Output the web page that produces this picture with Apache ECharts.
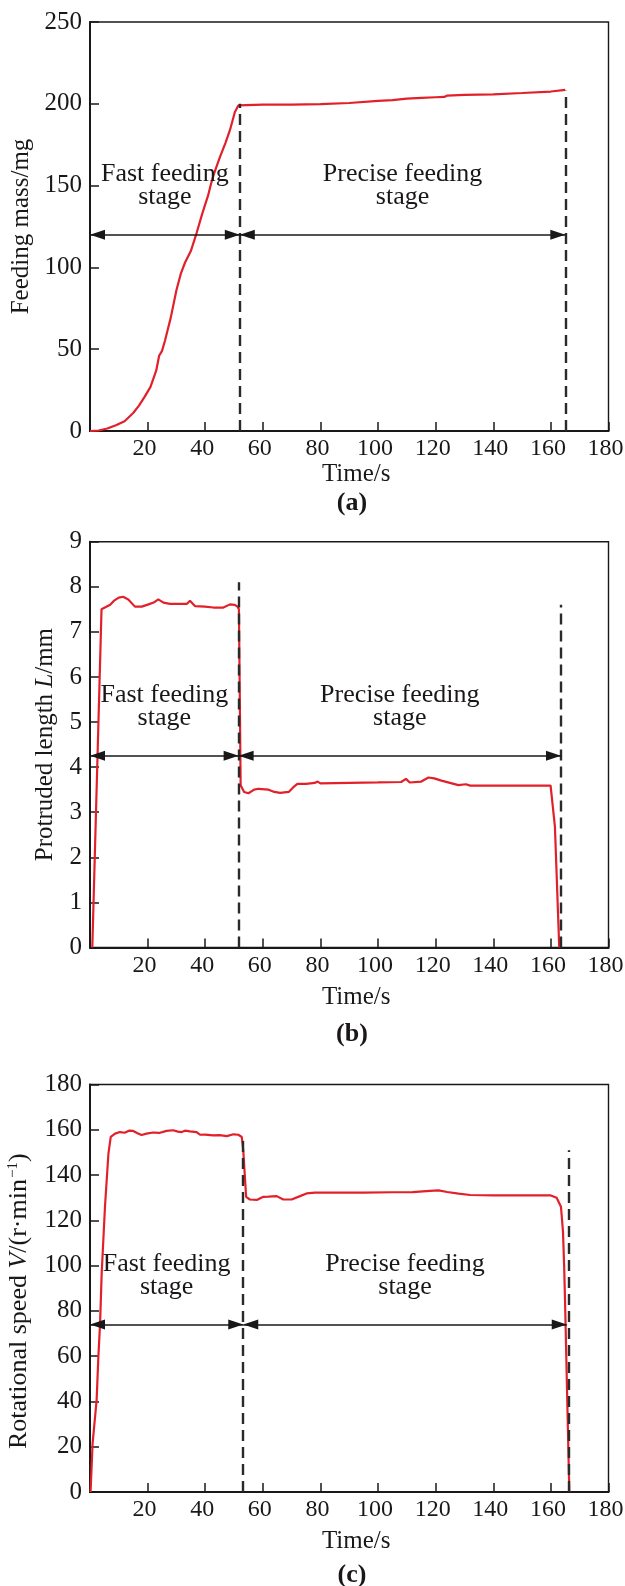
<!DOCTYPE html>
<html><head><meta charset="utf-8">
<script src="https://cdn.jsdelivr.net/npm/echarts@6/dist/echarts.min.js"></script>
<style>html,body{margin:0;padding:0;background:#fff}#c{width:625px;height:1586px}</style>
</head><body><div id="c"></div>
<script>
// ---------- data ----------
const xTickValues = [20, 40, 60, 80, 100, 120, 140, 160, 180];
const yTicksA = [0, 50, 100, 150, 200, 250];
const yTicksB = [0, 1, 2, 3, 4, 5, 6, 7, 8, 9];
const yTicksC = [0, 20, 40, 60, 80, 100, 120, 140, 160, 180];

// (a) feeding mass
const timeA = [0, 3, 6, 9, 12, 15, 17, 19, 21, 23, 24, 25, 26, 27, 28, 30, 31.5, 33, 35, 37, 39, 41, 42, 43, 45, 47, 48.6, 50.3, 51.5, 52,
  60, 70, 80, 90, 100, 105, 110, 115, 120, 123, 124, 130, 140, 150, 160, 165];
const massA = [0, 0.3, 1.5, 3.5, 6, 11, 15.5, 21, 27, 37, 46, 49, 55, 62, 69, 86, 96, 103, 110, 121, 133, 144, 151, 157, 167, 176, 184, 195, 199, 200,
  199.5, 199.5, 199.8, 200.5, 201.8, 202.3, 203.2, 203.6, 204, 204.2, 205, 205.4, 205.8, 206.6, 207.5, 208.5];

// (b) protruded length
const timeB = [0.8, 4.0, 5.5, 7, 8.5, 10, 11.5, 13.3, 15.6, 18, 20.3, 22.1, 23.7, 25.5, 27.8, 33.6, 34.7, 36.5, 39.9, 42.8, 46.3, 48.6, 50.3, 51.2, 51.7,
  52.3, 53.5, 55, 57, 58.5, 62, 64, 66, 69, 70.5, 72, 75, 78, 79, 80, 90, 100, 108, 109.7, 111, 115, 117.5, 119.5, 122, 125.6, 127.9, 130.5, 132,
  140, 150, 159.9, 161.4, 162.9];
const lengthB = [0, 7.5, 7.55, 7.6, 7.7, 7.76, 7.78, 7.72, 7.56, 7.56, 7.61, 7.65, 7.72, 7.65, 7.62, 7.62, 7.69, 7.57, 7.56, 7.54, 7.54, 7.61, 7.6, 7.56, 7.5,
  3.6, 3.45, 3.42, 3.5, 3.52, 3.5, 3.45, 3.43, 3.45, 3.55, 3.63, 3.63, 3.65, 3.68, 3.64, 3.65, 3.66, 3.67, 3.74, 3.66, 3.68, 3.77, 3.75, 3.7, 3.64, 3.6, 3.62, 3.59,
  3.59, 3.59, 3.59, 2.68, 0];

// (c) rotational speed
const timeC = [0.2, 0.9, 2.3, 2.9, 3.5, 4.05, 5.2, 6.4, 7.2, 8.7, 10.4, 12, 13.5, 15, 16.5, 17.9, 19.6, 21.9, 24, 26.6, 28.9, 30.5, 31.8, 33, 34.7, 37, 38.2,
  40, 42.8, 45, 47.5, 49.8, 51.5, 52.7, 53.2, 54.2, 55.5, 57.9, 60.2, 62, 64.8, 67.1, 70, 72.9, 75.2, 78.1, 85, 95, 105, 112, 118, 121, 124, 128, 132,
  140, 150, 160, 162, 163.5, 164.2, 164.6, 164.9, 166.4];
const speedC = [0, 21.5, 40.6, 59.7, 74.5, 96.5, 126, 149.5, 156.9, 158.3, 159, 158.7, 159.6, 159.5, 158.5, 157.7, 158.3, 158.8, 158.6, 159.5, 159.8, 159.2, 159, 159.6, 159.3, 159, 157.8,
  157.9, 157.5, 157.6, 157.2, 158, 157.8, 156.8, 151, 130.4, 129.2, 129, 130.4, 130.5, 130.7, 129.2, 129.2, 130.7, 131.9, 132.2, 132.3, 132.2, 132.4, 132.5, 133, 133.2, 132.5, 131.8, 131.2,
  131, 131, 131, 130, 126, 115, 100, 85, 0];

// stage boundaries (time), top of dashed lines, arrow heights
const boundsA = [52, 165];   const boundTopA = [200, 208]; const arrowYA = 120;
const boundsB = [51.6, 163.5]; const boundTopB = [8.1, 7.6]; const arrowYB = 4.25;
const boundsC = [53.2, 166.1]; const boundTopC = [156.7, 151]; const arrowYC = 74; const arrowEndC = 165.5;

const stageFast = 'Fast feeding\nstage';
const stagePrecise = 'Precise feeding\nstage';

// ---------- style ----------
const FONT = '"Liberation Serif","Times New Roman",serif';
const INK = '#1a1718';
const RED = '#e2202a';
const FS = 25;

const gridTops = [22, 541.7, 1084.5];
const gridHeights = [409, 405.8, 407.5];
const xNameGaps = [31, 37, 37];

function zip(t, v) { return t.map((x, i) => [x, v[i]]); }

function xAx(i) {
  return {
    type: 'value', gridIndex: i, min: 0, max: 180, interval: 20,
    name: 'Time/s', nameLocation: 'middle', nameGap: xNameGaps[i],
    nameTextStyle: { fontFamily: FONT, fontSize: FS, color: INK, padding: [0, 0, 0, 14] },
    axisLine: { lineStyle: { color: INK, width: 2 } },
    axisTick: { inside: true, length: 9, customValues: xTickValues, lineStyle: { color: INK, width: 1.5 } },
    axisLabel: { fontFamily: FONT, fontSize: 24, color: INK, margin: 6, customValues: xTickValues, padding: [0, 6, 0, 0] },
    splitLine: { show: false }
  };
}
function yAx(i, max, interval, ticks, name, gap, rich, pad) {
  return {
    type: 'value', gridIndex: i, min: 0, max: max, interval: interval,
    name: name, nameLocation: 'middle', nameGap: gap,
    nameTextStyle: { fontFamily: FONT, fontSize: FS, color: INK, rich: rich, padding: pad },
    axisLine: { lineStyle: { color: INK, width: 2 } },
    axisTick: { inside: true, length: 9, customValues: ticks, lineStyle: { color: INK, width: 1.5 } },
    axisLabel: { fontFamily: FONT, fontSize: FS, color: INK, margin: 8, customValues: ticks },
    splitLine: { show: false }
  };
}

const labelStyle = {
  show: true, position: 'insideMiddleTop', distance: 26,
  fontFamily: FONT, fontSize: 26, lineHeight: 23, color: INK, align: 'center'
};

function dashed(x, top) {
  return [
    { coord: [x, 0], symbol: 'none', lineStyle: { type: [11, 6], width: 2.4, color: '#2a2a2a' }, label: { show: false } },
    { coord: [x, top], symbol: 'none' }
  ];
}
const head = { symbol: 'triangle', symbolSize: [10, 15], symbolOffset: [0, '50%'] };
function arrow(x0, x1, y, text) {
  return [
    Object.assign({ coord: [x0, y], lineStyle: { type: 'solid', width: 1.7, color: INK }, label: Object.assign({ formatter: text }, labelStyle) }, head),
    Object.assign({ coord: [x1, y] }, head)
  ];
}

function lineSeries(i, t, v, bounds, tops, ay, arrowEnd) {
  return {
    type: 'line', xAxisIndex: i, yAxisIndex: i, data: zip(t, v),
    showSymbol: false, symbol: 'none',
    lineStyle: { color: RED, width: 2.2 }, z: 3,
    markLine: {
      silent: true, animation: false,
      symbol: ['triangle', 'triangle'], symbolSize: 13,
      itemStyle: { color: INK },
      data: [
        dashed(bounds[0], tops[0]),
        dashed(bounds[1], tops[1]),
        arrow(0, bounds[0], ay, stageFast),
        arrow(bounds[0], arrowEnd, ay, stagePrecise)
      ]
    }
  };
}

const richB = {
  n: { fontFamily: FONT, fontSize: FS, color: INK },
  i: { fontFamily: FONT, fontSize: FS, color: INK, fontStyle: 'italic' }
};
const richC = {
  n: { fontFamily: FONT, fontSize: 26, color: INK, lineHeight: 28 },
  i: { fontFamily: FONT, fontSize: 26, color: INK, fontStyle: 'italic', lineHeight: 28 },
  s: { fontFamily: FONT, fontSize: 15, color: INK, lineHeight: 28, padding: [0, 0, 13, 1] }
};

const panelLabel = (t, y) => ({ type: 'text', x: 352, y: y, style: { text: t, textAlign: 'center', textVerticalAlign: 'middle', font: 'bold 26px ' + FONT, fill: INK } });

const option = {
  animation: false,
  backgroundColor: '#fff',
  grid: gridTops.map((t, i) => ({
    left: 90, right: 16.5, top: t, height: gridHeights[i],
    outerBoundsMode: 'none', containLabel: false,
    show: true, borderColor: INK, borderWidth: 1.4, backgroundColor: 'transparent'
  })),
  xAxis: [xAx(0), xAx(1), xAx(2)],
  yAxis: [
    yAx(0, 250, 50, yTicksA, 'Feeding mass/mg', 53, undefined, 0),
    yAx(1, 9, 1, yTicksB, '{n|Protruded length }{i|L}{n|/mm}', 32, richB, 0),
    yAx(2, 180, 20, yTicksC, '{n|Rotational speed }{i|V}{n|/(r·min}{s|−1}{n|)}', 48, richC, [0, 26, 0, 0])
  ],
  series: [
    lineSeries(0, timeA, massA, boundsA, boundTopA, arrowYA, boundsA[1]),
    lineSeries(1, timeB, lengthB, boundsB, boundTopB, arrowYB, boundsB[1]),
    lineSeries(2, timeC, speedC, boundsC, boundTopC, arrowYC, arrowEndC)
  ],
  graphic: [panelLabel('(a)', 503), panelLabel('(b)', 1034), panelLabel('(c)', 1575)]
};

const chart = echarts.init(document.getElementById('c'), null, { renderer: 'canvas' });
chart.setOption(option);
</script>
</body></html>
